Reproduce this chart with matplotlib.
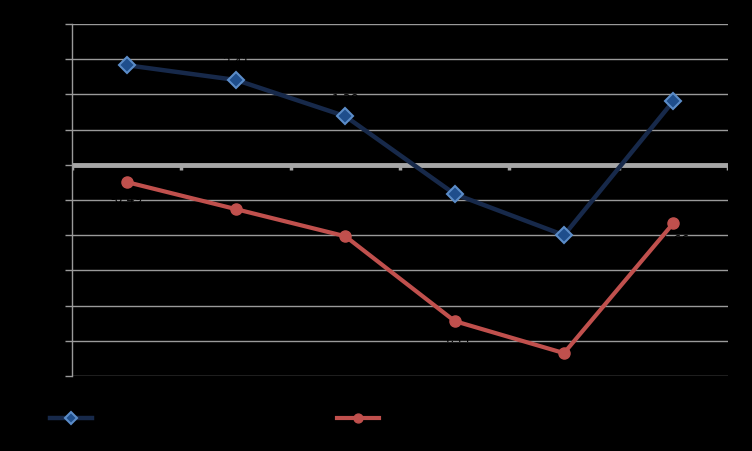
import matplotlib.pyplot as plt
import numpy as np

# Data (labels are black on black in the reference)
categories = ['2008', '2009', '2010', '2011', '2012', '2013']
series_a = [2.83, 2.41, 1.38, -0.83, -2.00, 1.81]
series_b = [-0.49, -1.26, -2.03, -4.44, -5.35, -1.66]
series_names = ['Series A', 'Series B']
y_ticks = [-6, -5, -4, -3, -2, -1, 0, 1, 2, 3, 4]

fig = plt.figure(figsize=(7.52, 4.51), dpi=100, facecolor='black')
ax = fig.add_axes([72 / 752, 1 - 376 / 451, 656 / 752, 352 / 451], facecolor='black')

x = np.arange(len(categories)) + 0.5
ax.set_xlim(0, len(categories))
ax.set_ylim(y_ticks[0], y_ticks[-1])

# gridlines
for v in y_ticks:
    if v != 0:
        ax.axhline(v, color='#9a9a9a', lw=1.0, zorder=1)
ax.axhline(0, color='#a6a6a6', lw=3.5, zorder=2)

# category tick marks below zero line
for b in range(len(categories) + 1):
    ax.plot([b, b], [0, -0.15], color='#a6a6a6', lw=2.5, zorder=2, solid_capstyle='butt')

la, = ax.plot(x, series_a, color='#17294a', lw=3.2, marker='D', ms=8,
              markerfacecolor='#1f4e8c', markeredgecolor='#5b8cc8', markeredgewidth=1.5,
              zorder=4, label=series_names[0])
lb, = ax.plot(x, series_b, color='#c0504d', lw=3.0, marker='o', ms=8,
              markerfacecolor='#c0504d', markeredgecolor='#c0504d',
              zorder=4, label=series_names[1])

# data labels (black, as in the reference)
for xi, v in zip(x, series_a):
    ax.text(xi, v + 0.3, f'{v:.2f}', color='black', ha='center', va='bottom', fontsize=9, zorder=3)
for xi, v in zip(x, series_b):
    ax.text(xi, v - 0.3, f'{v:.2f}', color='black', ha='center', va='top', fontsize=9, zorder=3)

for s in ['top', 'right', 'bottom']:
    ax.spines[s].set_visible(False)
ax.spines['left'].set_color('#9a9a9a')
ax.spines['left'].set_linewidth(1.0)
ax.set_yticks(y_ticks)
ax.tick_params(axis='y', colors='#9a9a9a', labelcolor='black', length=5, width=1.0)
ax.set_xticks(x)
ax.set_xticklabels(categories)
ax.tick_params(axis='x', length=0, labelcolor='black')

fig.legend(handles=[la, lb], loc='center left', bbox_to_anchor=(50 / 752, 1 - 419 / 451), ncol=2,
           frameon=False, labelcolor='black', columnspacing=12.8, handlelength=3,
           borderpad=0, borderaxespad=0, markerscale=0.8)

fig.savefig('out.png', dpi=100, facecolor='black')
